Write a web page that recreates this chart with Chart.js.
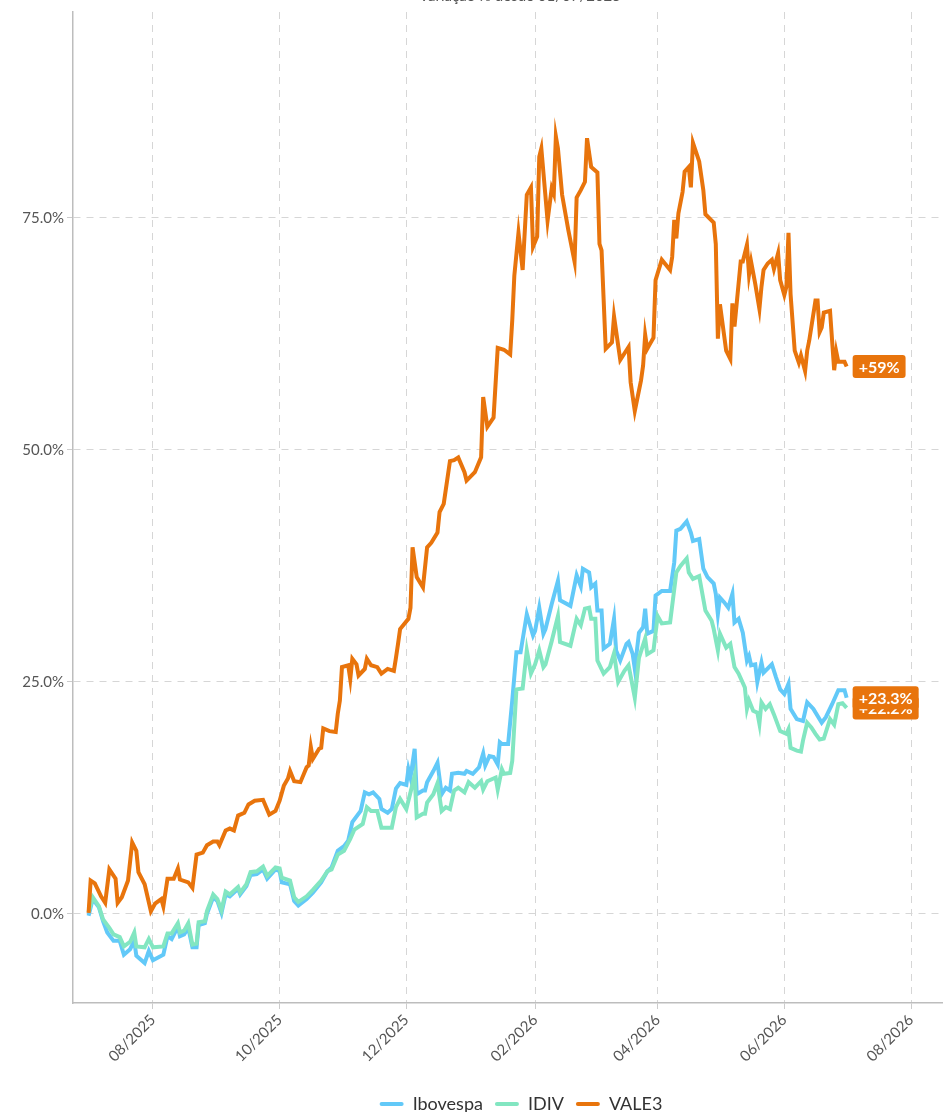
<!DOCTYPE html>
<html><head><meta charset="utf-8">
<script src="https://cdn.jsdelivr.net/npm/chart.js@4.4.1/dist/chart.umd.min.js"></script>
<style>html,body{margin:0;padding:0;background:#fff;overflow:hidden}#wrap{width:943px;height:1112px}</style>
</head><body><div id="wrap"><canvas id="c" width="943" height="1112"></canvas></div>
<script>
const chartTitle = 'Variação % desde 01/07/2025';
const startDate = '2025-07-01';
const seriesNames = ['Ibovespa', 'IDIV', 'VALE3'];
const seriesColors = ['#62C9F8', '#82E6C1', '#E8740C'];
const tickDates = ['2025-08-01','2025-10-01','2025-12-01','2026-02-01','2026-04-01','2026-06-01','2026-08-01'];
const tickLabels = ['08/2025','10/2025','12/2025','02/2026','04/2026','06/2026','08/2026'];
const yTicks = [0, 25, 50, 75];

// days since startDate
const ibovDays = [0,2,5,7,9,12,15,17,20,22, 23,27,29,31,36,38,40,43,44,46, 48,50,52,53,56,57,60,62,64,66,
  68,72,73,76,78,81,84,86,90,92, 93,97,99,101,105,108,112,115,117,120, 123,125,127,131,133,135,137,140,141,144,
  146,148,150,153,154,155,157,158,161,162, 163,166,168,170,172,174,175,178,181,182, 185,188,190,191,193,195,197,198,199,202,
  204,206,208,211,214,215,217,219,220,223, 226,227,232,235,236,237,238,241,242,244, 245,247,248,251,253,254,256,259,260,262,
  263,265,267,268,269,272,273,276,280,282, 283,285,288,290,291,294,296,298,301,302, 303,304,306,308,310,311,313,315,317,318,
  319,321,322,324,325,329,331,333,335,337, 338,341,344,346,349,353,355,358,361,364, 365];
const ibovValues = [-0.2,1.6,0.7,-0.8,-2.0,-2.9,-2.9,-4.4,-3.8,-2.9, -4.5,-5.3,-4.0,-5.0,-4.4,-2.4,-2.7,-1.4,-2.4,-2.2, -1.5,-3.6,-3.6,-1.2,-1.0,0.0,1.8,1.4,0.1,2.1,
  1.9,2.7,2.1,3.0,4.2,4.3,4.8,3.8,4.8,4.6, 3.4,3.2,1.4,0.9,1.6,2.3,3.4,4.6,5.0,6.8, 7.3,7.9,9.9,11.1,13.1,12.9,13.1,12.4,11.3,10.9,
  11.3,13.5,14.1,13.9,15.6,14.7,17.8,12.9,13.3,13.3, 14.2,15.4,16.3,12.9,13.6,13.3,15.1,15.2,15.1,15.4, 15.1,15.8,17.3,16.0,17.0,16.9,16.1,18.5,18.3,18.3,
  23.0,28.2,28.2,32.3,30.0,30.5,33.0,30.2,30.7,33.4, 35.9,33.8,33.2,36.5,35.9,35.3,37.2,36.8,35.2,35.6, 32.7,32.7,28.6,29.1,31.8,28.4,27.3,29.1,29.3,28.0,
  26.4,30.3,30.9,32.9,30.2,30.5,34.3,34.8,34.8,37.9, 41.3,41.5,42.3,41.1,40.2,40.4,37.2,36.3,35.6,34.5, 32.3,34.1,33.6,33.0,34.5,31.4,31.8,30.3,27.3,27.8,
  26.8,26.9,25.0,27.1,26.0,26.9,25.5,24.2,23.7,24.8, 22.1,21.0,20.8,22.8,22.1,20.6,21.2,22.6,24.1,24.1, 23.3];

const idivDays = [0,2,5,7,10,12,15,17,20,22, 23,27,29,31,36,38,40,43,44,46, 48,50,52,53,56,57,60,62,64,66,
  68,72,73,76,78,81,84,86,90,92, 93,97,99,101,105,108,112,115,117,120, 123,126,128,132,134,136,139,141,146,148,
  150,153,157,158,161,162,163,166,168,170, 172,174,176,178,181,183,186,189,190,192, 196,197,199,200,203,204,206,209,211,213,
  215,217,219,220,223,226,227,232,235,237, 239,241,242,244,245,248,251,253,255,258, 260,263,265,268,269,272,274,276,280,283,
  285,288,289,291,294,297,300,301,303,304, 307,309,311,313,316,317,318,320,322,323, 324,326,328,330,333,336,337,338,341,343,
  344,346,348,350,352,354,357,359,361,363, 365];
const idivValues = [0.2,1.8,0.8,-0.6,-1.5,-2.2,-2.5,-3.5,-3.0,-2.0, -3.5,-3.6,-2.7,-3.6,-3.5,-2.1,-2.1,-1.0,-2.0,-1.8, -1.0,-3.3,-3.2,-0.9,-0.8,0.3,2.1,1.6,0.4,2.4,
  2.1,2.9,2.3,3.2,4.5,4.6,5.1,4.1,5.0,4.9, 3.9,3.6,1.8,1.3,1.9,2.6,3.6,4.6,4.8,6.4, 6.8,8.1,9.1,9.7,11.5,11.1,11.1,9.3,9.3,11.5,
  12.4,11.3,14.9,10.4,10.8,10.8,12.0,12.9,14.1,11.1, 11.5,11.3,13.3,13.6,13.1,14.2,13.6,14.3,13.4,14.3, 14.7,13.4,15.6,15.1,15.2,16.5,24.2,24.3,28.4,25.9,
  26.9,28.4,26.6,26.9,29.4,32.1,29.3,28.9,31.8,31.1, 32.9,33.0,31.8,31.8,27.3,25.9,26.6,28.1,25.0,26.2, 26.8,23.3,27.6,29.7,28.0,28.4,32.1,31.3,31.4,36.8,
  37.5,38.3,36.8,36.1,36.4,32.7,31.6,30.7,28.4,30.2, 28.7,29.1,26.6,25.9,24.4,22.1,23.0,21.9,21.7,20.5, 22.8,22.1,22.6,21.5,19.7,19.4,19.9,17.9,17.6,17.5,
  18.7,20.6,20.1,19.4,18.8,18.9,21.0,20.4,22.6,22.7, 22.2];

const valeDays = [0,1,3,6,8,10,13,14,16,19, 21,23,24,27,30,32,35,36,38,41, 43,44,48,50,52,55,57,60,62,63,
  66,68,70,72,75,77,80,84,87,90, 92,94,96,97,99,102,105,106,107,108, 111,112,113,116,119,120,121,122,125,126,
  127,129,130,133,134,136,139,141,144,147, 148,149,150,154,155,156,158,161,163,165, 168,169,171,174,176,178,181,182,186,189,
  190,192,195,197,200,203,204,205,207,209, 211,213,214,216,217,218,221,223,224,225, 226,228,231,234,235,237,239,240,242,245,
  246,247,249,252,253,256,260,261,263,266, 267,268,269,270,272,273,276,280,281,282, 283,284,286,287,289,290,291,294,296,297,
  301,302,303,304,307,309,310,311,314,315, 317,318,319,321,323,324,325,327,329,330, 332,333,335,336,337,338,340,342,343,345,
  346,347,350,351,352,353,354,357,359,360, 361,364,365];
const valeValues = [0.1,3.6,3.3,1.9,1.2,4.8,3.8,1.2,1.8,3.6, 7.7,6.8,4.5,3.2,0.3,1.1,1.6,0.8,3.8,3.8, 4.9,3.7,3.4,2.8,6.4,6.6,7.4,7.8,7.8,7.4,
  9.0,9.2,9.0,10.6,10.9,11.8,12.2,12.3,10.7,11.1, 12.2,13.8,14.6,15.4,14.3,14.2,15.8,16.0,18.0,16.7, 17.8,17.9,20.0,19.7,19.6,21.6,23.0,26.6,26.8,25.3,
  27.5,26.9,25.7,26.4,27.5,26.8,26.6,25.9,26.4,26.2, 27.6,29.1,30.7,31.8,33.0,39.5,36.3,35.2,39.5,40.0, 41.1,43.3,44.2,48.8,48.9,49.2,47.6,46.7,47.6,49.2,
  55.7,52.5,53.5,61.0,60.8,60.3,64.0,68.8,73.4,69.4, 77.5,78.3,71.9,73.0,81.6,82.5,74.7,78.2,77.6,83.8, 82.5,77.5,73.7,70.3,77.2,78.0,78.9,83.6,80.5,79.9,
  72.2,71.5,60.9,61.6,64.4,59.7,61.1,57.3,54.2,57.5, 59.1,62.4,60.9,61.3,62.1,68.3,70.5,69.4,70.8,74.8, 72.8,75.5,77.8,80.0,80.5,78.3,83.1,81.1,78.0,75.4,
  74.5,72.2,62.0,65.7,60.7,59.8,65.8,63.3,70.3,70.3, 72.1,68.9,70.3,67.9,65.2,67.6,69.4,70.1,70.5,69.5, 71.2,68.3,66.7,67.6,73.4,66.8,60.7,59.4,60.2,58.5,
  60.7,61.8,66.1,66.1,62.7,63.2,64.8,65.0,58.6,60.6, 59.5,59.5,59.0];

const DAY = 86400000;
const t0 = Date.parse(startDate + 'T00:00:00Z');
const tickDays = tickDates.map(d => Math.round((Date.parse(d + 'T00:00:00Z') - t0) / DAY));
const pts = (days, vals) => days.map((d, i) => ({x: d, y: vals[i]}));
const seriesDays = [ibovDays, idivDays, valeDays];
const seriesValues = [ibovValues, idivValues, valeValues];

const FONT = 'Lato, "Open Sans", sans-serif';

const endLabels = {
  id: 'endLabels',
  afterDatasetsDraw(chart) {
    const ctx = chart.ctx;
    const orderIdx = [1, 0, 2];
    ctx.save();
    ctx.font = 'bold 16px ' + FONT;
    orderIdx.forEach(i => {
      const meta = chart.getDatasetMeta(i);
      const last = meta.data[meta.data.length - 1];
      const vals = seriesValues[i];
      const v = vals[vals.length - 1];
      const txt = '+' + (Math.round(v * 10) / 10).toString() + '%';
      const w = ctx.measureText(txt).width + 12;
      const h = 23;
      const x = last.x + 6, y = last.y - h / 2;
      ctx.fillStyle = seriesColors[2];
      ctx.beginPath();
      ctx.roundRect(x, y, w, h, 3);
      ctx.fill();
      ctx.fillStyle = '#ffffff';
      ctx.textBaseline = 'middle';
      ctx.textAlign = 'left';
      ctx.fillText(txt, x + 6, last.y + 1);
    });
    ctx.restore();
  },
  afterDraw(chart) {
    const ctx = chart.ctx;
    ctx.save();
    ctx.font = '15px ' + FONT;
    ctx.fillStyle = '#555';
    ctx.textAlign = 'center';
    ctx.textBaseline = 'alphabetic';
    ctx.fillText(chartTitle, 520, 1);
    ctx.restore();
  },
  afterLayout(chart) {
    const lg = chart.legend;
    if (lg) { lg.left += 99; lg.top += 11; lg.bottom += 11; }
  }
};

new Chart(document.getElementById('c'), {
  type: 'line',
  data: {
    datasets: seriesNames.map((name, i) => ({
      label: name,
      data: pts(seriesDays[i], seriesValues[i]),
      borderColor: seriesColors[i],
      backgroundColor: seriesColors[i],
      borderWidth: 4,
      pointRadius: 0,
      tension: 0,
      fill: false,
      order: 2 - i
    }))
  },
  options: {
    responsive: false,
    animation: false,
    devicePixelRatio: 1,
    layout: { padding: { top: 12, right: 0, left: 0, bottom: 0 } },
    plugins: {
      tooltip: { enabled: false },
      legend: {
        position: 'bottom',
        labels: {
          boxWidth: 24, boxHeight: 4, padding: 12,
          font: { family: FONT, size: 18 }, color: '#333',
          useBorderRadius: true, borderRadius: 2,
          generateLabels: (chart) => chart.data.datasets.map((ds, i) => ({
            text: ds.label, fillStyle: ds.borderColor, strokeStyle: ds.borderColor,
            lineWidth: 0, hidden: false, datasetIndex: i, fontColor: '#333', borderRadius: 2
          })),
          sort: (a, b) => a.datasetIndex - b.datasetIndex
        }
      }
    },
    scales: {
      x: {
        type: 'linear',
        min: -7.5, max: 411.4,
        afterBuildTicks: (s) => { s.ticks = tickDays.map(v => ({ value: v })); },
        afterFit: (s) => { s.height = 69; },
        ticks: {
          autoSkip: false, minRotation: 45, maxRotation: 45, padding: 2,
          font: { family: FONT, size: 15 }, color: '#555',
          callback: (v) => { const k = tickDays.indexOf(v); return k >= 0 ? tickLabels[k] : ''; }
        },
        grid: { color: '#d6d6d6', lineWidth: 1, tickLength: 6, tickColor: '#cccccc', tickBorderDash: [] },
        border: { display: true, color: '#bdbdbd', width: 1.5, dash: [7, 6] }
      },
      y: {
        type: 'linear',
        min: -9.6, max: 97.2,
        afterBuildTicks: (s) => { s.ticks = yTicks.map(v => ({ value: v })); },
        afterFit: (s) => { s.width = 73; },
        ticks: {
          padding: 3, font: { family: FONT, size: 15 }, color: '#555',
          callback: (v) => v.toFixed(1) + '%'
        },
        grid: { color: '#d6d6d6', lineWidth: 1, tickLength: 6, tickColor: '#cccccc', tickBorderDash: [] },
        border: { display: true, color: '#bdbdbd', width: 1.5, dash: [7, 6] }
      }
    }
  },
  plugins: [endLabels]
});
</script>
</body></html>
